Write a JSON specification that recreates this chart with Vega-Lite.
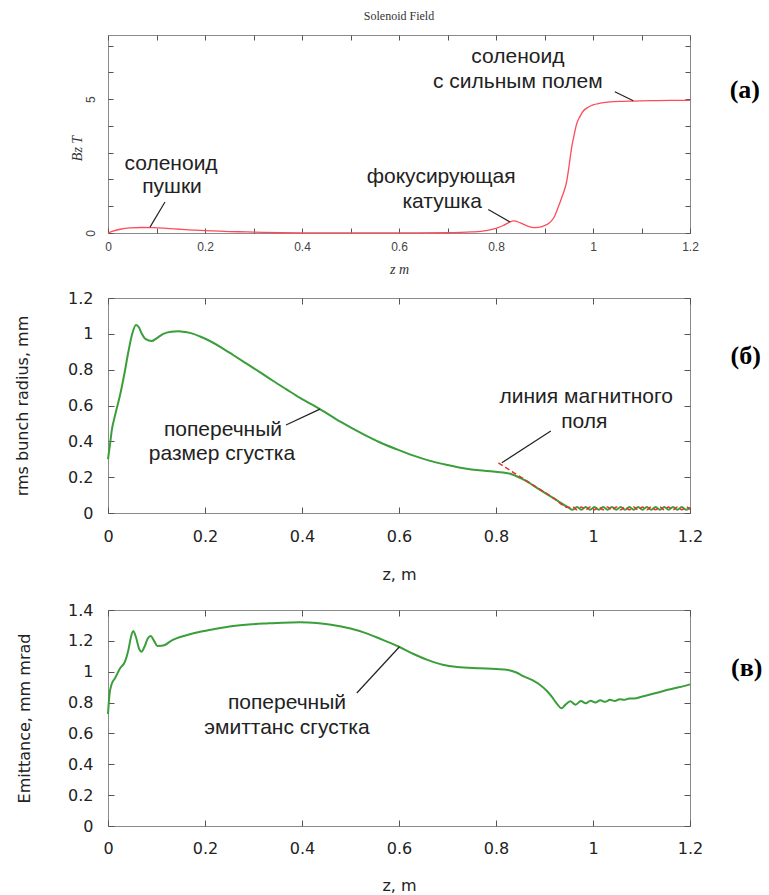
{
"$schema": "https://vega.github.io/schema/vega-lite/v6.json",
"background": "white",
"padding": {"left": 13, "top": 9, "right": 5, "bottom": 2},
"datasets": {
"bz": [{"z":0,"v":0},{"z":0.01,"v":0.07},{"z":0.025,"v":0.14},{"z":0.045,"v":0.19},{"z":0.07,"v":0.205},{"z":0.093,"v":0.2},{"z":0.12,"v":0.175},{"z":0.148,"v":0.14},{"z":0.18,"v":0.105},{"z":0.217,"v":0.08},{"z":0.25,"v":0.055},{"z":0.286,"v":0.04},{"z":0.32,"v":0.02},{"z":0.355,"v":0.01},{"z":0.4,"v":0.005},{"z":0.5,"v":0.002},{"z":0.6,"v":0.002},{"z":0.7,"v":0.01},{"z":0.75,"v":0.04},{"z":0.78,"v":0.09},{"z":0.8,"v":0.17},{"z":0.815,"v":0.28},{"z":0.827,"v":0.4},{"z":0.837,"v":0.45},{"z":0.85,"v":0.38},{"z":0.865,"v":0.26},{"z":0.88,"v":0.2},{"z":0.895,"v":0.24},{"z":0.911,"v":0.39},{"z":0.92,"v":0.6},{"z":0.928,"v":0.95},{"z":0.937,"v":1.4},{"z":0.946,"v":1.95},{"z":0.951,"v":2.55},{"z":0.956,"v":3.2},{"z":0.961,"v":3.65},{"z":0.966,"v":4.06},{"z":0.973,"v":4.35},{"z":0.98,"v":4.56},{"z":0.99,"v":4.7},{"z":1.0,"v":4.79},{"z":1.015,"v":4.85},{"z":1.035,"v":4.9},{"z":1.06,"v":4.92},{"z":1.083,"v":4.93},{"z":1.12,"v":4.95},{"z":1.16,"v":4.96},{"z":1.2,"v":4.96}],
"annA": [{"z":0.845,"v":6.34,"t":"соленоид"},{"z":0.845,"v":5.41,"t":"с сильным полем"},{"z":0.130,"v":2.37,"t":"соленоид"},{"z":0.132,"v":1.48,"t":"пушки"},{"z":0.687,"v":1.86,"t":"фокусирующая"},{"z":0.689,"v":0.95,"t":"катушка"}],
"legA": [{"z":0.1175,"v":1.16,"z2":0.0866,"v2":0.22},{"z":0.784,"v":0.876,"z2":0.829,"v2":0.41},{"z":1.045,"v":5.28,"z2":1.083,"v2":4.94}],
"labA": [{"z":1.313,"v":5.34,"t":"(а)"}],
"rG": [{"z":0,"v":0.3},{"z":0.004,"v":0.38},{"z":0.0076,"v":0.458},{"z":0.015,"v":0.55},{"z":0.025,"v":0.66},{"z":0.034,"v":0.78},{"z":0.042,"v":0.9},{"z":0.05,"v":1.0},{"z":0.0577,"v":1.05},{"z":0.064,"v":1.035},{"z":0.069,"v":1.005},{"z":0.078,"v":0.97},{"z":0.09,"v":0.96},{"z":0.1,"v":0.975},{"z":0.114,"v":1.0},{"z":0.13,"v":1.012},{"z":0.145,"v":1.015},{"z":0.16,"v":1.01},{"z":0.176,"v":1.0},{"z":0.19,"v":0.985},{"z":0.21,"v":0.96},{"z":0.233,"v":0.925},{"z":0.258,"v":0.882},{"z":0.285,"v":0.835},{"z":0.313,"v":0.786},{"z":0.34,"v":0.738},{"z":0.368,"v":0.69},{"z":0.396,"v":0.642},{"z":0.437,"v":0.58},{"z":0.48,"v":0.508},{"z":0.526,"v":0.44},{"z":0.56,"v":0.395},{"z":0.595,"v":0.356},{"z":0.63,"v":0.32},{"z":0.664,"v":0.291},{"z":0.7,"v":0.268},{"z":0.733,"v":0.25},{"z":0.765,"v":0.238},{"z":0.794,"v":0.232},{"z":0.815,"v":0.226},{"z":0.829,"v":0.219},{"z":0.84,"v":0.208},{"z":0.86,"v":0.182},{"z":0.89,"v":0.13},{"z":0.92,"v":0.08},{"z":0.949,"v":0.031},{"z":0.958,"v":0.018},{"z":0.967,"v":0.034},{"z":0.976,"v":0.018},{"z":0.985,"v":0.034},{"z":0.994,"v":0.018},{"z":1.003,"v":0.034},{"z":1.012,"v":0.018},{"z":1.021,"v":0.034},{"z":1.03,"v":0.018},{"z":1.039,"v":0.034},{"z":1.048,"v":0.018},{"z":1.057,"v":0.034},{"z":1.066,"v":0.018},{"z":1.075,"v":0.034},{"z":1.084,"v":0.018},{"z":1.093,"v":0.034},{"z":1.102,"v":0.018},{"z":1.111,"v":0.034},{"z":1.12,"v":0.018},{"z":1.129,"v":0.034},{"z":1.138,"v":0.018},{"z":1.147,"v":0.034},{"z":1.156,"v":0.018},{"z":1.165,"v":0.034},{"z":1.174,"v":0.018},{"z":1.183,"v":0.034},{"z":1.192,"v":0.018},{"z":1.2,"v":0.03}],
"rR": [{"z":0.805,"v":0.28},{"z":0.836,"v":0.226},{"z":0.86,"v":0.185},{"z":0.89,"v":0.133},{"z":0.92,"v":0.081},{"z":0.949,"v":0.031},{"z":0.958,"v":0.034},{"z":0.967,"v":0.018},{"z":0.976,"v":0.034},{"z":0.985,"v":0.018},{"z":0.994,"v":0.034},{"z":1.003,"v":0.018},{"z":1.012,"v":0.034},{"z":1.021,"v":0.018},{"z":1.03,"v":0.034},{"z":1.039,"v":0.018},{"z":1.048,"v":0.034},{"z":1.057,"v":0.018},{"z":1.066,"v":0.034},{"z":1.075,"v":0.018},{"z":1.084,"v":0.034},{"z":1.093,"v":0.018},{"z":1.102,"v":0.034},{"z":1.111,"v":0.018},{"z":1.12,"v":0.034},{"z":1.129,"v":0.018},{"z":1.138,"v":0.034},{"z":1.147,"v":0.018},{"z":1.156,"v":0.034},{"z":1.165,"v":0.018},{"z":1.174,"v":0.034},{"z":1.183,"v":0.018},{"z":1.192,"v":0.034},{"z":1.2,"v":0.022}],
"annB": [{"z":0.237,"v":0.43,"t":"поперечный"},{"z":0.235,"v":0.294,"t":"размер сгустка"},{"z":0.986,"v":0.614,"t":"линия магнитного"},{"z":0.982,"v":0.475,"t":"поля"}],
"legB": [{"z":0.367,"v":0.491,"z2":0.437,"v2":0.58},{"z":0.812,"v":0.28,"z2":0.913,"v2":0.458}],
"labB": [{"z":1.315,"v":0.875,"t":"(б)"}],
"em": [{"z":0,"v":0.726},{"z":0.003,"v":0.85},{"z":0.0076,"v":0.92},{"z":0.0144,"v":0.957},{"z":0.025,"v":1.022},{"z":0.035,"v":1.065},{"z":0.042,"v":1.14},{"z":0.047,"v":1.22},{"z":0.052,"v":1.264},{"z":0.058,"v":1.22},{"z":0.064,"v":1.15},{"z":0.069,"v":1.13},{"z":0.075,"v":1.16},{"z":0.082,"v":1.215},{"z":0.088,"v":1.231},{"z":0.095,"v":1.2},{"z":0.102,"v":1.167},{"z":0.11,"v":1.168},{"z":0.118,"v":1.175},{"z":0.13,"v":1.2},{"z":0.141,"v":1.216},{"z":0.16,"v":1.235},{"z":0.19,"v":1.259},{"z":0.22,"v":1.277},{"z":0.258,"v":1.296},{"z":0.29,"v":1.306},{"z":0.327,"v":1.313},{"z":0.36,"v":1.318},{"z":0.396,"v":1.32},{"z":0.43,"v":1.316},{"z":0.46,"v":1.305},{"z":0.5,"v":1.28},{"z":0.53,"v":1.252},{"z":0.56,"v":1.215},{"z":0.6,"v":1.162},{"z":0.63,"v":1.115},{"z":0.66,"v":1.075},{"z":0.69,"v":1.045},{"z":0.72,"v":1.03},{"z":0.767,"v":1.022},{"z":0.8,"v":1.017},{"z":0.825,"v":1.011},{"z":0.842,"v":0.995},{"z":0.856,"v":0.972},{"z":0.875,"v":0.945},{"z":0.891,"v":0.914},{"z":0.905,"v":0.875},{"z":0.915,"v":0.838},{"z":0.925,"v":0.795},{"z":0.935,"v":0.763},{"z":0.943,"v":0.785},{"z":0.953,"v":0.808},{"z":0.964,"v":0.786},{"z":0.975,"v":0.81},{"z":0.985,"v":0.795},{"z":0.995,"v":0.812},{"z":1.005,"v":0.8},{"z":1.015,"v":0.815},{"z":1.025,"v":0.805},{"z":1.035,"v":0.818},{"z":1.045,"v":0.81},{"z":1.055,"v":0.822},{"z":1.065,"v":0.818},{"z":1.075,"v":0.827},{"z":1.085,"v":0.826},{"z":1.1,"v":0.838},{"z":1.13,"v":0.862},{"z":1.152,"v":0.881},{"z":1.17,"v":0.895},{"z":1.185,"v":0.905},{"z":1.2,"v":0.918}],
"annC": [{"z":0.369,"v":0.756,"t":"поперечный"},{"z":0.369,"v":0.596,"t":"эмиттанс сгустка"}],
"legC": [{"z":0.513,"v":0.862,"z2":0.601,"v2":1.162}],
"labC": [{"z":1.317,"v":1.024,"t":"(в)"}]
},
"config": {
"view": {"stroke": "#8a8a8a", "strokeWidth": 1},
"axis": {"grid": false, "domain": false, "tickColor": "#555", "tickWidth": 1, "labelFlush": false, "labelOverlap": false, "titleFontWeight": "normal"}
},
"vconcat": [
{
"spacing": 12,
"vconcat": [
{
"width": 582, "height": 198,
"title": {"text": "Solenoid Field", "font": "Liberation Serif", "fontSize": 12, "fontWeight": "normal", "color": "#333", "offset": 12},
"resolve": {"axis": {"x": "independent", "y": "independent"}},
"layer": [
{"data": {"name": "bz"}, "mark": {"type": "line", "color": "#ff4a5a", "strokeWidth": 1.3, "interpolate": "monotone"},
"encoding": {
"x": {"field": "z", "type": "quantitative", "scale": {"domain": [0, 1.2], "nice": false, "zero": false},
"axis": {"orient": "bottom", "values": [0,0.1,0.2,0.3,0.4,0.5,0.6,0.7,0.8,0.9,1,1.1,1.2], "format": "~g", "labelExpr": "round(datum.value*10)%2==0 ? datum.label : ''", "tickSize": -5, "labelPadding": 13, "labelFont": "Liberation Sans", "labelFontSize": 12, "labelColor": "#444", "title": "z  m", "titleFont": "Liberation Serif", "titleFontStyle": "italic", "titleFontSize": 14, "titleColor": "#333", "titleY": 36, "titleBaseline": "middle"}},
"y": {"field": "v", "type": "quantitative", "scale": {"domain": [0, 7.4], "nice": false, "zero": false},
"axis": {"orient": "left", "values": [0,1,2,3,4,5,6,7], "labelExpr": "datum.value==0||datum.value==5 ? datum.label : ''", "labelAngle": 270, "tickSize": -5, "labelPadding": 16, "labelFont": "Liberation Sans", "labelFontSize": 12, "labelColor": "#444", "title": "Bz  T", "titleFont": "Liberation Serif", "titleFontStyle": "italic", "titleFontSize": 14, "titleColor": "#333", "titleX": -24, "titleY": 113}}
}},
{"data": {"name": "bz"}, "mark": {"type": "line", "opacity": 0},
"encoding": {
"x": {"field": "z", "type": "quantitative", "axis": {"orient": "top", "values": [0,0.1,0.2,0.3,0.4,0.5,0.6,0.7,0.8,0.9,1,1.1,1.2], "tickSize": -5, "labels": false, "title": null}},
"y": {"field": "v", "type": "quantitative", "axis": {"orient": "right", "values": [0,1,2,3,4,5,6,7], "tickSize": -5, "labels": false, "title": null}}
}},
{"data": {"name": "legA"}, "mark": {"type": "rule", "color": "#222", "strokeWidth": 1.2},
"encoding": {"x": {"field": "z", "type": "quantitative", "axis": null}, "y": {"field": "v", "type": "quantitative", "axis": null}, "x2": {"field": "z2"}, "y2": {"field": "v2"}}},
{"data": {"name": "annA"}, "mark": {"type": "text", "font": "Liberation Sans", "fontSize": 21, "align": "center", "baseline": "alphabetic", "color": "#222"},
"encoding": {"x": {"field": "z", "type": "quantitative", "axis": null}, "y": {"field": "v", "type": "quantitative", "axis": null}, "text": {"field": "t"}}},
{"data": {"name": "labA"}, "mark": {"type": "text", "font": "Liberation Serif", "fontWeight": "bold", "fontSize": 26, "align": "center", "baseline": "middle", "color": "#000"},
"encoding": {"x": {"field": "z", "type": "quantitative", "axis": null}, "y": {"field": "v", "type": "quantitative", "axis": null}, "text": {"field": "t"}}}
]
},
{
"width": 582, "height": 215,
"resolve": {"axis": {"x": "independent", "y": "independent"}},
"layer": [
{"data": {"name": "rG"}, "mark": {"type": "line", "color": "#3a9e3a", "strokeWidth": 2, "interpolate": "monotone"},
"encoding": {
"x": {"field": "z", "type": "quantitative", "scale": {"domain": [0, 1.2], "nice": false, "zero": false},
"axis": {"orient": "bottom", "values": [0,0.2,0.4,0.6,0.8,1,1.2], "format": "~g", "tickSize": -6, "labelPadding": 21, "labelFont": "DejaVu Sans", "labelFontSize": 16, "labelColor": "#222", "title": "z, m", "titleFont": "DejaVu Sans", "titleFontSize": 16, "titleColor": "#222", "titleY": 61, "titleBaseline": "middle"}},
"y": {"field": "v", "type": "quantitative", "scale": {"domain": [0, 1.2], "nice": false, "zero": false},
"axis": {"orient": "left", "values": [0,0.2,0.4,0.6,0.8,1,1.2], "format": "~g", "tickSize": -6, "labelPadding": 21, "labelFont": "DejaVu Sans", "labelFontSize": 16, "labelColor": "#222", "title": "rms bunch radius, mm", "titleFont": "DejaVu Sans", "titleFontSize": 16, "titleColor": "#222", "titleX": -78}}
}},
{"data": {"name": "rR"}, "mark": {"type": "line", "color": "#e8322a", "strokeWidth": 1.5, "strokeDash": [5, 3], "interpolate": "monotone"},
"encoding": {"x": {"field": "z", "type": "quantitative", "axis": null}, "y": {"field": "v", "type": "quantitative", "axis": null}}},
{"data": {"name": "rG"}, "mark": {"type": "line", "opacity": 0},
"encoding": {
"x": {"field": "z", "type": "quantitative", "axis": {"orient": "top", "values": [0,0.2,0.4,0.6,0.8,1,1.2], "tickSize": -6, "labels": false, "title": null}},
"y": {"field": "v", "type": "quantitative", "axis": {"orient": "right", "values": [0,0.2,0.4,0.6,0.8,1,1.2], "tickSize": -6, "labels": false, "title": null}}
}},
{"data": {"name": "legB"}, "mark": {"type": "rule", "color": "#222", "strokeWidth": 1.2},
"encoding": {"x": {"field": "z", "type": "quantitative", "axis": null}, "y": {"field": "v", "type": "quantitative", "axis": null}, "x2": {"field": "z2"}, "y2": {"field": "v2"}}},
{"data": {"name": "annB"}, "mark": {"type": "text", "font": "Liberation Sans", "fontSize": 21, "align": "center", "baseline": "alphabetic", "color": "#222"},
"encoding": {"x": {"field": "z", "type": "quantitative", "axis": null}, "y": {"field": "v", "type": "quantitative", "axis": null}, "text": {"field": "t"}}},
{"data": {"name": "labB"}, "mark": {"type": "text", "font": "Liberation Serif", "fontWeight": "bold", "fontSize": 26, "align": "center", "baseline": "middle", "color": "#000"},
"encoding": {"x": {"field": "z", "type": "quantitative", "axis": null}, "y": {"field": "v", "type": "quantitative", "axis": null}, "text": {"field": "t"}}}
]
}
]
},
{
"width": 582, "height": 216,
"resolve": {"axis": {"x": "independent", "y": "independent"}},
"layer": [
{"data": {"name": "em"}, "mark": {"type": "line", "color": "#3a9e3a", "strokeWidth": 2, "interpolate": "monotone"},
"encoding": {
"x": {"field": "z", "type": "quantitative", "scale": {"domain": [0, 1.2], "nice": false, "zero": false},
"axis": {"orient": "bottom", "values": [0,0.2,0.4,0.6,0.8,1,1.2], "format": "~g", "tickSize": -6, "labelPadding": 20, "labelFont": "DejaVu Sans", "labelFontSize": 16, "labelColor": "#222", "title": "z, m", "titleFont": "DejaVu Sans", "titleFontSize": 16, "titleColor": "#222", "titleY": 59, "titleBaseline": "middle"}},
"y": {"field": "v", "type": "quantitative", "scale": {"domain": [0, 1.4], "nice": false, "zero": false},
"axis": {"orient": "left", "values": [0,0.2,0.4,0.6,0.8,1,1.2,1.4], "format": "~g", "tickSize": -6, "labelPadding": 21, "labelFont": "DejaVu Sans", "labelFontSize": 16, "labelColor": "#222", "title": "Emittance, mm mrad", "titleFont": "DejaVu Sans", "titleFontSize": 16, "titleColor": "#222", "titleX": -76}}
}},
{"data": {"name": "em"}, "mark": {"type": "line", "opacity": 0},
"encoding": {
"x": {"field": "z", "type": "quantitative", "axis": {"orient": "top", "values": [0,0.2,0.4,0.6,0.8,1,1.2], "tickSize": -6, "labels": false, "title": null}},
"y": {"field": "v", "type": "quantitative", "axis": {"orient": "right", "values": [0,0.2,0.4,0.6,0.8,1,1.2,1.4], "tickSize": -6, "labels": false, "title": null}}
}},
{"data": {"name": "legC"}, "mark": {"type": "rule", "color": "#222", "strokeWidth": 1.2},
"encoding": {"x": {"field": "z", "type": "quantitative", "axis": null}, "y": {"field": "v", "type": "quantitative", "axis": null}, "x2": {"field": "z2"}, "y2": {"field": "v2"}}},
{"data": {"name": "annC"}, "mark": {"type": "text", "font": "Liberation Sans", "fontSize": 21, "align": "center", "baseline": "alphabetic", "color": "#222"},
"encoding": {"x": {"field": "z", "type": "quantitative", "axis": null}, "y": {"field": "v", "type": "quantitative", "axis": null}, "text": {"field": "t"}}},
{"data": {"name": "labC"}, "mark": {"type": "text", "font": "Liberation Serif", "fontWeight": "bold", "fontSize": 26, "align": "center", "baseline": "middle", "color": "#000"},
"encoding": {"x": {"field": "z", "type": "quantitative", "axis": null}, "y": {"field": "v", "type": "quantitative", "axis": null}, "text": {"field": "t"}}}
]
}
],
"spacing": 18
}
